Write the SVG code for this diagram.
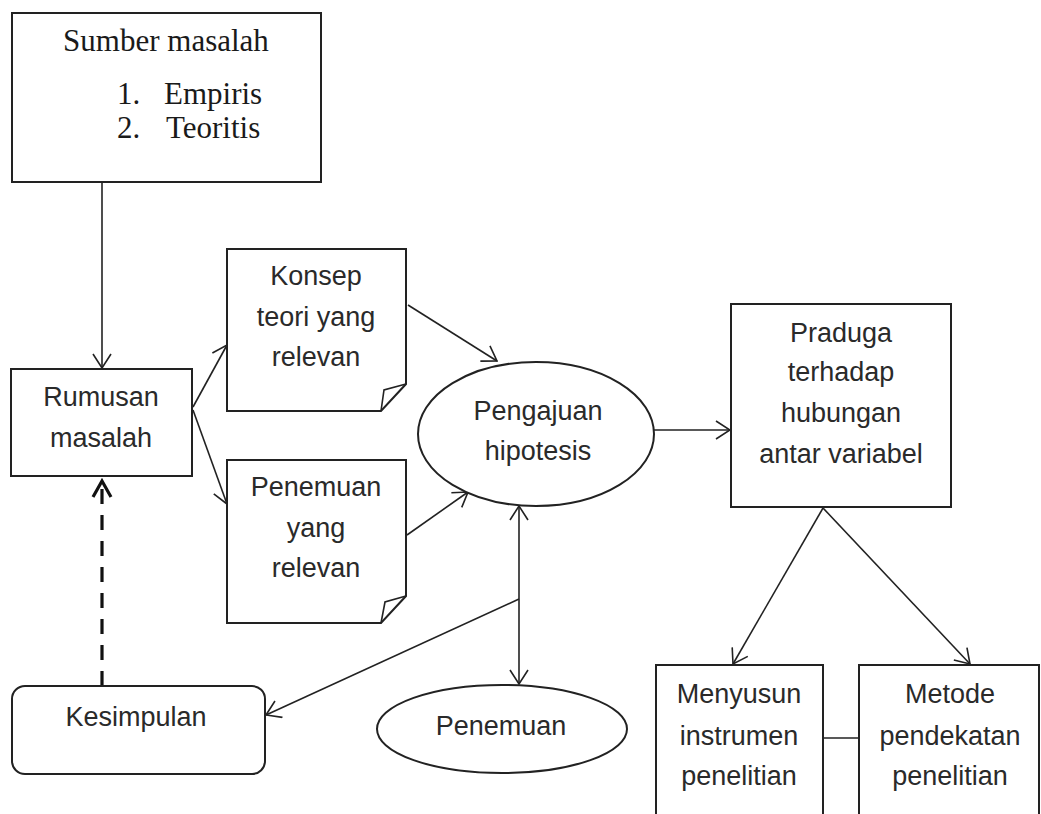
<svg xmlns="http://www.w3.org/2000/svg" width="1041" height="814" viewBox="0 0 1041 814">
<style>
.box{fill:#fff;stroke:#222;stroke-width:2}
.ln{fill:none;stroke:#222;stroke-width:1.6}
.serif{font-family:"Liberation Serif","Times New Roman",serif;font-size:31px;fill:#1a1a1a}
.sans{font-family:"Liberation Sans",Arial,sans-serif;font-size:27px;fill:#2a2a2a;text-anchor:middle}
</style>
<defs>
<marker id="arr" viewBox="0 0 16 20" refX="15" refY="10" markerWidth="16" markerHeight="20" markerUnits="userSpaceOnUse" orient="auto-start-reverse">
<path d="M1,1 L15,10 L1,19" fill="none" stroke="#222" stroke-width="1.6"/>
</marker>
<marker id="arrThick" viewBox="0 0 22 22" refX="19" refY="11" markerWidth="22" markerHeight="22" markerUnits="userSpaceOnUse" orient="auto">
<path d="M3,2 L19,11 L3,20" fill="none" stroke="#111" stroke-width="3.2"/>
</marker>
</defs>
<rect width="1041" height="814" fill="#fff"/>

<g id="connectors">
<line class="ln" x1="102" y1="182" x2="102" y2="368" marker-end="url(#arr)"/>
<line class="ln" x1="193" y1="407" x2="227" y2="345" marker-end="url(#arr)"/>
<line class="ln" x1="193" y1="410" x2="227" y2="504" marker-end="url(#arr)"/>
<line class="ln" x1="408" y1="305" x2="497" y2="361" marker-end="url(#arr)"/>
<line class="ln" x1="407" y1="535" x2="468" y2="492" marker-end="url(#arr)"/>
<line class="ln" x1="654" y1="430" x2="730" y2="430" marker-end="url(#arr)"/>
<line class="ln" x1="519" y1="506" x2="519" y2="684" marker-start="url(#arr)" marker-end="url(#arr)"/>
<line class="ln" x1="519" y1="599" x2="266" y2="715" marker-end="url(#arr)"/>
<line class="ln" x1="823" y1="508" x2="733" y2="664" marker-end="url(#arr)"/>
<line class="ln" x1="823" y1="508" x2="970" y2="664" marker-end="url(#arr)"/>
<line class="ln" x1="823" y1="738" x2="859" y2="738"/>
<line x1="102" y1="686" x2="102" y2="481" fill="none" stroke="#111" stroke-width="3.2" stroke-dasharray="15 11" marker-end="url(#arrThick)"/>
</g>

<g id="sumber">
<rect class="box" x="12" y="13" width="309" height="169"/>
<text class="serif" x="166" y="51" text-anchor="middle">Sumber masalah</text>
<text class="serif" x="117" y="104">1.</text>
<text class="serif" x="164" y="104">Empiris</text>
<text class="serif" x="117" y="138">2.</text>
<text class="serif" x="166" y="138">Teoritis</text>
</g>

<g id="rumusan">
<rect class="box" x="11" y="369" width="181" height="107"/>
<text class="sans" x="101" y="406">Rumusan</text>
<text class="sans" x="101" y="447">masalah</text>
</g>

<g id="konsep">
<path class="box" d="M227,249 H406 V384 L381,411 H227 Z"/>
<path class="ln" d="M381,411 L384,390 L406,384"/>
<text class="sans" x="316" y="285">Konsep</text>
<text class="sans" x="316" y="326">teori yang</text>
<text class="sans" x="316" y="366">relevan</text>
</g>

<g id="penemuan-relevan">
<path class="box" d="M227,460 H406 V596 L381,623 H227 Z"/>
<path class="ln" d="M381,623 L385,602 L406,596"/>
<text class="sans" x="316" y="496">Penemuan</text>
<text class="sans" x="316" y="537">yang</text>
<text class="sans" x="316" y="577">relevan</text>
</g>

<g id="pengajuan">
<ellipse class="box" cx="536" cy="434" rx="118" ry="72"/>
<text class="sans" x="538" y="420">Pengajuan</text>
<text class="sans" x="538" y="460">hipotesis</text>
</g>

<g id="praduga">
<rect class="box" x="731" y="304" width="220" height="203"/>
<text class="sans" x="841" y="342">Praduga</text>
<text class="sans" x="841" y="381">terhadap</text>
<text class="sans" x="841" y="422">hubungan</text>
<text class="sans" x="841" y="463">antar variabel</text>
</g>

<g id="kesimpulan">
<rect class="box" x="12" y="686" width="253" height="88" rx="13"/>
<text class="sans" x="136" y="726">Kesimpulan</text>
</g>

<g id="penemuan">
<ellipse class="box" cx="502" cy="729" rx="125" ry="44"/>
<text class="sans" x="501" y="735">Penemuan</text>
</g>

<g id="menyusun">
<rect class="box" x="656" y="665" width="167" height="170"/>
<text class="sans" x="739" y="703">Menyusun</text>
<text class="sans" x="739" y="745">instrumen</text>
<text class="sans" x="739" y="785">penelitian</text>
</g>

<g id="metode">
<rect class="box" x="859" y="665" width="180" height="170"/>
<text class="sans" x="950" y="703">Metode</text>
<text class="sans" x="950" y="745">pendekatan</text>
<text class="sans" x="950" y="785">penelitian</text>
</g>
</svg>
